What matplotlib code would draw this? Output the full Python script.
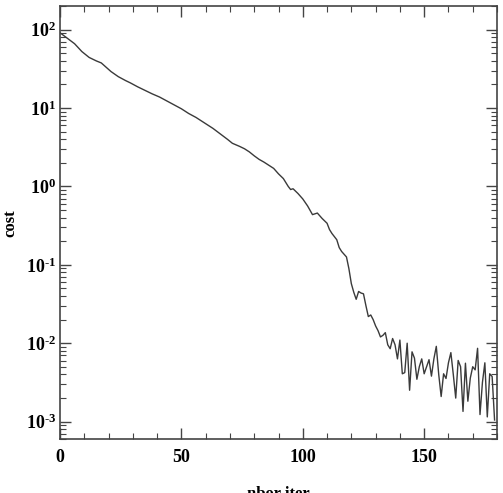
import numpy as np
import matplotlib
matplotlib.use("Agg")
import matplotlib.pyplot as plt
from matplotlib.ticker import LogLocator, MultipleLocator, FixedLocator, FuncFormatter, NullFormatter

plt.rcParams['font.family'] = ['Liberation Serif', 'DejaVu Serif']
plt.rcParams['font.weight'] = 'bold'
plt.rcParams['mathtext.fontset'] = 'custom'
plt.rcParams['mathtext.rm'] = 'Liberation Serif:bold'
plt.rcParams['mathtext.it'] = 'Liberation Serif:bold'
plt.rcParams['mathtext.bf'] = 'Liberation Serif:bold'
plt.rcParams['axes.unicode_minus'] = False

# iteration number and log10(cost)
iters = [0, 3, 6, 9, 12, 15, 17, 19, 21, 24, 27, 29, 32, 35, 38, 41, 44, 47,
         50, 53, 56, 58, 60, 63, 66, 69, 71, 74, 76, 78, 80, 82, 84, 86, 88,
         90, 92, 94, 95, 96, 98, 100, 102, 104, 105, 106, 108, 110, 111, 112,
         114, 115, 116, 118, 119, 120, 121, 122, 123, 124, 125, 126, 127, 128,
         129, 130, 131, 132, 133, 134, 135, 136, 137, 138, 139, 140, 141, 142,
         143, 144, 145, 146, 147, 148, 149, 150, 151, 152, 153, 154, 155, 156,
         157, 158, 159, 160, 161, 162, 163, 164, 165, 166, 167, 168, 169, 170,
         171, 172, 173, 174, 175, 176, 177, 178, 179]
log_cost = [1.96, 1.89, 1.82, 1.72, 1.645, 1.60, 1.575, 1.52, 1.465, 1.40,
            1.35, 1.32, 1.27, 1.225, 1.18, 1.14, 1.09, 1.04, 0.99, 0.93, 0.88,
            0.84, 0.80, 0.74, 0.67, 0.60, 0.55, 0.51, 0.48, 0.44, 0.39, 0.345,
            0.31, 0.27, 0.23, 0.16, 0.10, 0.00, -0.04, -0.03, -0.09, -0.16,
            -0.25, -0.36, -0.35, -0.34, -0.41, -0.47, -0.55, -0.60, -0.68,
            -0.78, -0.83, -0.90, -1.05, -1.24, -1.35, -1.44, -1.34, -1.36,
            -1.37, -1.52, -1.66, -1.64, -1.70, -1.78, -1.84, -1.92, -1.90,
            -1.865, -2.02, -2.07, -1.94, -2.02, -2.20, -1.96, -2.39, -2.375,
            -2.00, -2.60, -2.11, -2.19, -2.46, -2.30, -2.20, -2.39, -2.30,
            -2.21, -2.42, -2.20, -2.04, -2.40, -2.68, -2.39, -2.45, -2.25,
            -2.12, -2.40, -2.70, -2.22, -2.30, -2.87, -2.255, -2.74, -2.445,
            -2.30, -2.34, -2.065, -2.91, -2.50, -2.25, -2.94, -2.39, -2.425,
            -2.98]
cost = [10 ** v for v in log_cost]


def decade_label(v, pos):
    e = int(round(np.log10(v)))
    # plain hyphen in the exponent, like the original
    return r'$10^{\text{%d}}$' % e


fig = plt.figure(figsize=(5.03, 4.93), dpi=100)
ax = fig.add_axes([60 / 503, 1 - 439 / 493, 437 / 503, 433 / 493])

ax.plot(iters, cost, color='#3a3a3a', lw=1.0)

ax.set_yscale('log')
ax.set_xlim(0, 180)
ax.set_ylim(6e-4, 2e2)

ax.xaxis.set_major_locator(FixedLocator([0, 50, 100, 150]))
ax.xaxis.set_minor_locator(MultipleLocator(10))
ax.yaxis.set_major_locator(LogLocator(base=10, numticks=20))
ax.yaxis.set_minor_locator(LogLocator(base=10, subs=np.arange(2, 10), numticks=20))
ax.yaxis.set_minor_formatter(NullFormatter())
ax.yaxis.set_major_formatter(FuncFormatter(decade_label))

ax.tick_params(which='both', direction='in', top=True, right=True, color='#444444')
ax.tick_params(which='major', length=8, width=1.0, labelsize=13)
ax.tick_params(axis='y', which='major', pad=3)
ax.tick_params(axis='x', which='major', pad=7)
ax.tick_params(which='minor', length=4, width=0.8)
for lab in ax.get_xticklabels():
    lab.set_fontweight('bold')

for s in ax.spines.values():
    s.set_color('#444444')
    s.set_linewidth(1.2)

fig.text(10 / 503, 1 - 223 / 493, 'cost', rotation=90, ha='center', va='center',
         fontsize=12, fontweight='bold')
# axis title sits at the very bottom edge, partly clipped as in the original
fig.text(278 / 503, 1 - 486 / 493, 'nbor iter', ha='center', va='top',
         fontsize=12, fontweight='bold')

fig.savefig('out.png', dpi=100)
